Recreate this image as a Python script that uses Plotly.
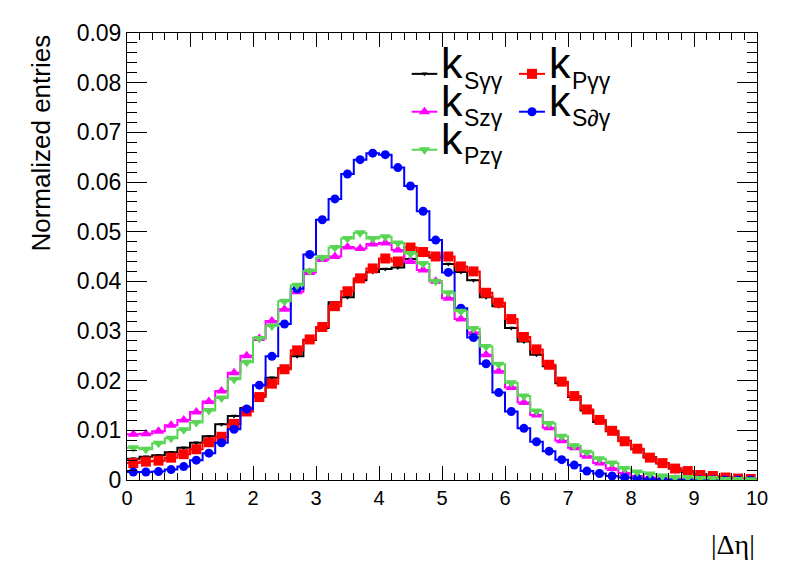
import numpy as np
import plotly.graph_objects as go

# 50 bins of width 0.2 on |Delta eta| in [0, 10]
bin_edges = np.linspace(0, 10, 51)
bin_centers = 0.5 * (bin_edges[:-1] + bin_edges[1:])

# normalized entries per bin
k_s_gg = [0.0043, 0.0047, 0.0050, 0.0056, 0.0065, 0.0075, 0.0088, 0.0112, 0.0129, 0.0145,
          0.0170, 0.0206, 0.0225, 0.0249, 0.0282, 0.0306, 0.0358, 0.0368, 0.0402, 0.0419,
          0.0425, 0.0428, 0.0445, 0.0453, 0.0448, 0.0435, 0.0419, 0.0402, 0.0368, 0.0350,
          0.0306, 0.0279, 0.0252, 0.0229, 0.0195, 0.0167, 0.0140, 0.0117, 0.0098, 0.0079,
          0.0062, 0.0046, 0.0033, 0.0023, 0.0016, 0.0011, 0.0007, 0.0005, 0.0003, 0.0002]
k_p_gg = [0.0034, 0.0037, 0.0039, 0.0045, 0.0052, 0.0062, 0.0076, 0.0087, 0.0113, 0.0138,
          0.0167, 0.0194, 0.0223, 0.0261, 0.0283, 0.0308, 0.0350, 0.0380, 0.0406, 0.0426,
          0.0446, 0.0440, 0.0468, 0.0459, 0.0450, 0.0450, 0.0430, 0.0420, 0.0377, 0.0357,
          0.0324, 0.0288, 0.0263, 0.0232, 0.0198, 0.0169, 0.0142, 0.0121, 0.0099, 0.0078,
          0.0063, 0.0045, 0.0034, 0.0023, 0.0018, 0.0010, 0.0008, 0.0005, 0.0003, 0.0002]
k_s_zg = [0.0092, 0.0093, 0.0098, 0.0110, 0.0121, 0.0137, 0.0158, 0.0179, 0.0216, 0.0250,
          0.0285, 0.0320, 0.0344, 0.0379, 0.0418, 0.0444, 0.0450, 0.0469, 0.0466, 0.0475,
          0.0477, 0.0463, 0.0440, 0.0423, 0.0400, 0.0366, 0.0324, 0.0297, 0.0252, 0.0219,
          0.0186, 0.0156, 0.0131, 0.0105, 0.0079, 0.0065, 0.0048, 0.0034, 0.0023, 0.0014,
          0.0008, 0.0005, 0.0003, 0.0002, 0.0002, 0.0001, 0.0001, 0.00005, 0.00003, 0.00002]
k_s_dg = [0.0016, 0.0016, 0.0017, 0.0021, 0.0027, 0.0040, 0.0054, 0.0075, 0.0102, 0.0143,
          0.0191, 0.0249, 0.0314, 0.0385, 0.0454, 0.0524, 0.0566, 0.0616, 0.0645, 0.0658,
          0.0655, 0.0629, 0.0592, 0.0541, 0.0483, 0.0418, 0.0346, 0.0287, 0.0234, 0.0176,
          0.0138, 0.0104, 0.0077, 0.0058, 0.0041, 0.0030, 0.0018, 0.0013, 0.0008, 0.0005,
          0.0003, 0.0002, 0.0001, 0.0001, 0.00005, 0.00005, 0.00003, 0.00002, 0.00001, 0.00001]
k_p_zg = [0.0065, 0.0062, 0.0074, 0.0084, 0.0101, 0.0116, 0.0140, 0.0165, 0.0203, 0.0237,
          0.0285, 0.0310, 0.0360, 0.0392, 0.0421, 0.0448, 0.0468, 0.0486, 0.0498, 0.0486,
          0.0490, 0.0477, 0.0456, 0.0436, 0.0400, 0.0377, 0.0340, 0.0305, 0.0269, 0.0233,
          0.0196, 0.0169, 0.0139, 0.0114, 0.0088, 0.0069, 0.0056, 0.0043, 0.0034, 0.0023,
          0.0016, 0.0012, 0.0008, 0.0005, 0.0005, 0.0003, 0.0003, 0.0001, 0.0001, 0.00005]

y_ticks = [0, 0.01, 0.02, 0.03, 0.04, 0.05, 0.06, 0.07, 0.08, 0.09]
y_ticktext = ["0", "0.01", "0.02", "0.03", "0.04", "0.05", "0.06", "0.07", "0.08", "0.09"]

# drawing order follows the ROOT legend (row by row)
series = [
    ("S\u03b3\u03b3", k_s_gg, "#000000", "triangle-down", 5),
    ("P\u03b3\u03b3", k_p_gg, "#ff0000", "square", 10),
    ("Sz\u03b3", k_s_zg, "#ff00ff", "triangle-up", 10),
    ("S\u2202\u03b3", k_s_dg, "#0000ff", "circle", 9),
    ("Pz\u03b3", k_p_zg, "#59d454", "triangle-down", 10),
]

fig = go.Figure()

for name, vals, col, sym, msize in series:
    # step outline over bin edges, like a ROOT "HIST" draw
    fig.add_trace(go.Scatter(x=bin_edges, y=list(vals) + [vals[-1]], mode="lines",
                             line=dict(color=col, width=2, shape="hv"),
                             showlegend=False, hoverinfo="skip"))
    fig.add_trace(go.Scatter(x=bin_centers, y=vals, mode="markers", name=name,
                             marker=dict(color=col, symbol=sym, size=msize, line=dict(width=0)),
                             showlegend=False))

# hand-made two column legend on an overlay axis (0..1 over the frame)
leg_rows = [0.9086, 0.8239, 0.7389]
leg_cols = [(0.4519, 0.4925), (0.6222, 0.6635)]
slots = [(0, 0), (1, 0), (0, 1), (1, 1), (0, 2)]
for (name, vals, col, sym, msize), (c, r) in zip(series, slots):
    x0, x1 = leg_cols[c]
    y = leg_rows[r]
    fig.add_trace(go.Scatter(x=[x0, x1], y=[y, y], mode="lines", xaxis="x2", yaxis="y2",
                             line=dict(color=col, width=2), showlegend=False, hoverinfo="skip"))
    fig.add_trace(go.Scatter(x=[(x0 + x1) / 2], y=[y], mode="markers", xaxis="x2", yaxis="y2",
                             marker=dict(color=col, symbol=sym, size=msize, line=dict(width=0)),
                             showlegend=False, hoverinfo="skip"))
    fig.add_annotation(x=x1 + 0.0035, y=y + 0.0240, xref="x2", yref="y2", text="k",
                       showarrow=False, xanchor="left", yanchor="middle",
                       font=dict(family="Liberation Sans", size=43, color="black"))
    fig.add_annotation(x=x1 + 0.0400, y=y - 0.0150, xref="x2", yref="y2", text=name,
                       showarrow=False, xanchor="left", yanchor="middle",
                       font=dict(family="Liberation Sans", size=23, color="black"))

# axis titles placed like ROOT does (aligned to the axis ends)
fig.add_annotation(x=-0.138, y=1.0, xref="paper", yref="paper", text="Normalized entries",
                   textangle=-90, showarrow=False, xanchor="center", yanchor="top",
                   font=dict(family="Liberation Sans", size=26, color="black"))
fig.add_annotation(x=1.0, y=-0.144, xref="paper", yref="paper", text="|\u0394\u03b7|",
                   showarrow=False, xanchor="right", yanchor="middle",
                   font=dict(family="Liberation Serif", size=28, color="black"))

axis_common = dict(showline=True, linecolor="black", linewidth=1, mirror="allticks",
                   ticks="inside", tickcolor="black", tickwidth=1, showgrid=False,
                   zeroline=False)

# page body keeps an 8px margin, so the figure is 8px smaller than the window
fig.update_layout(
    width=788, height=564,
    margin=dict(l=119, r=39, t=20, b=92),
    paper_bgcolor="white", plot_bgcolor="white",
    showlegend=False,
    xaxis=dict(range=[0, 10], dtick=1, ticklen=14,
               tickfont=dict(family="Liberation Sans", size=20, color="black"),
               minor=dict(dtick=0.2, ticklen=7, ticks="inside", tickcolor="black"),
               **axis_common),
    yaxis=dict(range=[0, 0.09], tickvals=y_ticks, ticktext=y_ticktext, ticklen=20,
               tickfont=dict(family="Liberation Sans", size=23, color="black"),
               minor=dict(dtick=0.002, ticklen=10, ticks="inside", tickcolor="black"),
               **axis_common),
    xaxis2=dict(range=[0, 1], overlaying="x", visible=False, fixedrange=True),
    yaxis2=dict(range=[0, 1], overlaying="y", visible=False, fixedrange=True),
)

fig.write_html("out.html")
